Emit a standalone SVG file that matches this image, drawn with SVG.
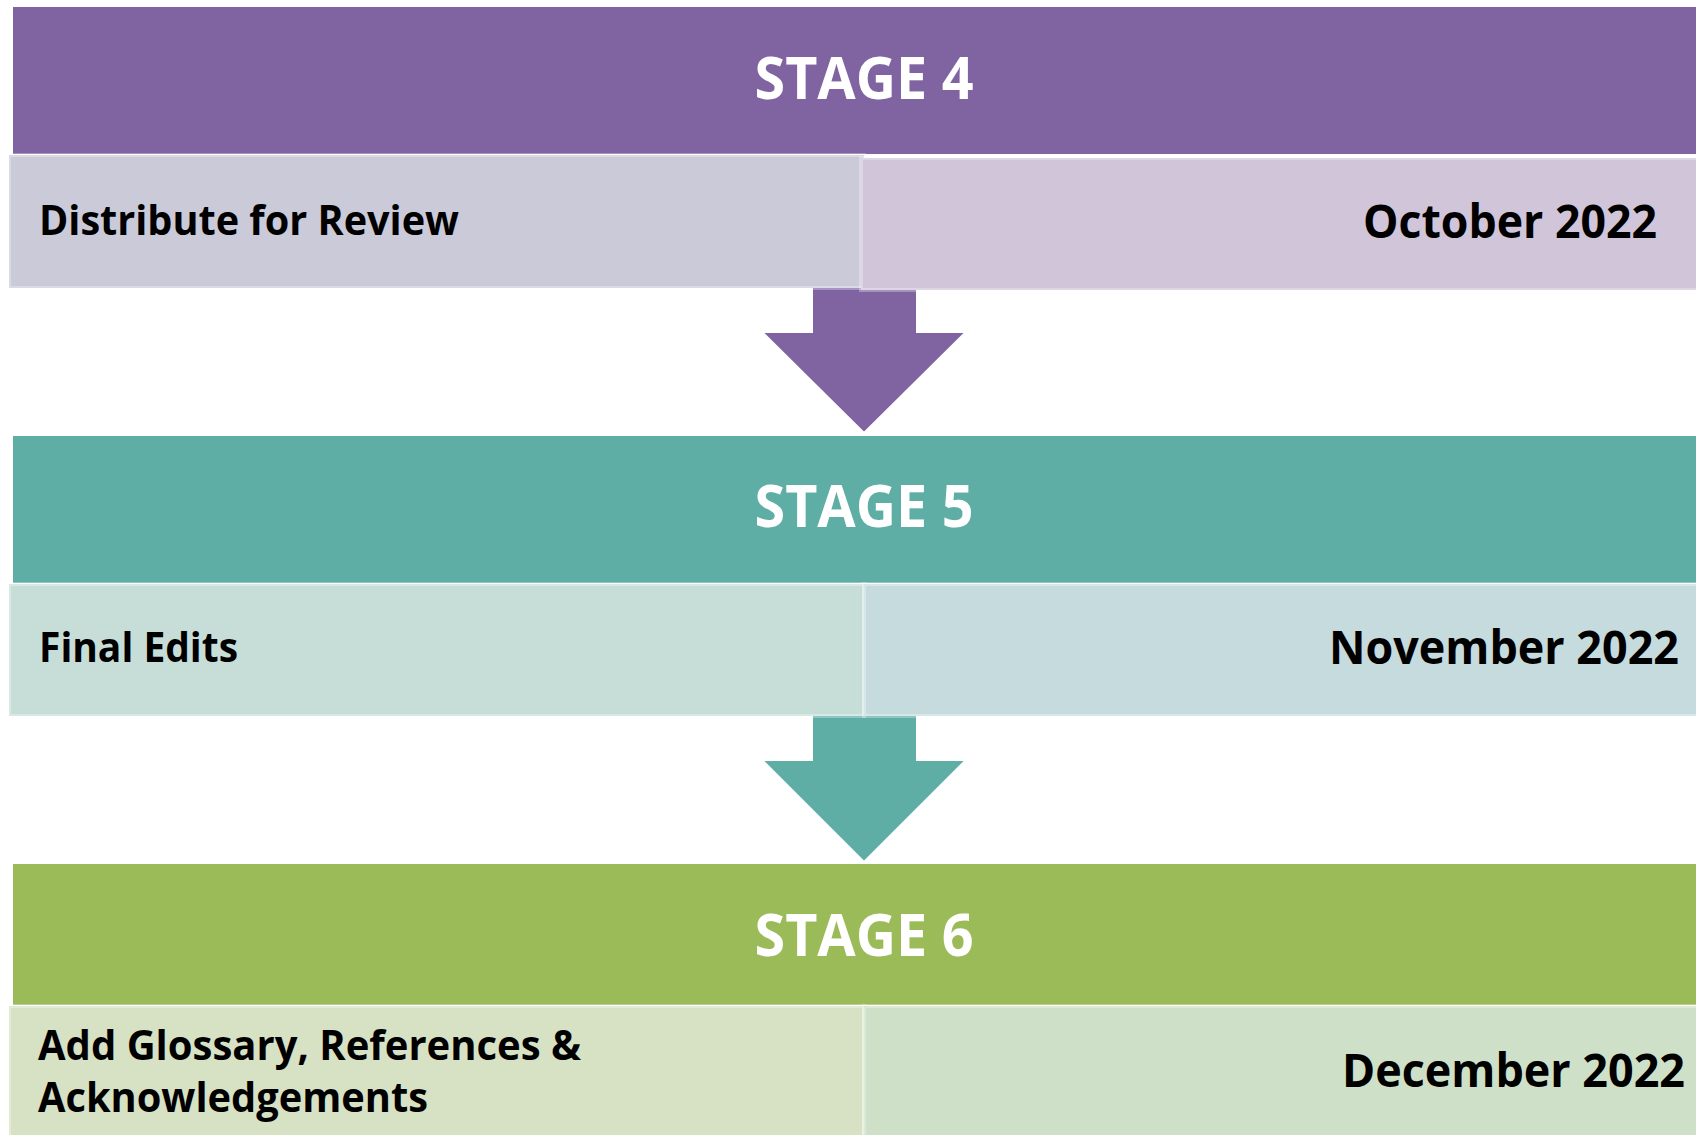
<svg xmlns="http://www.w3.org/2000/svg" width="1696" height="1135" viewBox="0 0 1696 1135">
<style>
.stage{font-family:"Open Sans","Liberation Sans",sans-serif;font-weight:700;font-size:59px;fill:#ffffff;text-anchor:middle}
.body{font-family:"Open Sans","Liberation Sans",sans-serif;font-weight:700;font-size:42px;fill:#000000}
.date{font-family:"Open Sans","Liberation Sans",sans-serif;font-weight:700;font-size:47px;fill:#000000;text-anchor:end}
.box{stroke:#ffffff;stroke-opacity:0.3;stroke-width:4}
.arrow{stroke:#ffffff;stroke-width:2}
</style>
<rect width="1696" height="1135" fill="#ffffff"/>
<g id="connectors">
<polygon class="arrow" fill="#8064A2" points="812,270 917,270 917,332 966,332 864,433 762,332 812,332"/>
<polygon class="arrow" fill="#5EAEA6" points="812,700 917,700 917,760 966,760 864,862 762,760 812,760"/>
</g>
<g id="stage4">
<rect x="13" y="7" width="1685" height="147" fill="#8064A2"/>
<text class="stage" x="864" y="99" textLength="219" lengthAdjust="spacingAndGlyphs">STAGE 4</text>
</g>
<g id="stage4-task">
<rect class="box" x="9" y="155" width="855" height="133" fill="#CACAD9"/>
<text class="body" x="39" y="235" textLength="420" lengthAdjust="spacingAndGlyphs">Distribute for Review</text>
</g>
<g id="stage4-date">
<rect class="box" x="861" y="158" width="840" height="132" fill="#D0C5D9"/>
<text class="date" x="1657" y="238" textLength="294" lengthAdjust="spacingAndGlyphs">October 2022</text>
</g>
<g id="stage5">
<rect x="13" y="436" width="1685" height="147" fill="#5EAEA6"/>
<text class="stage" x="864" y="527" textLength="219" lengthAdjust="spacingAndGlyphs">STAGE 5</text>
</g>
<g id="stage5-task">
<rect class="box" x="9" y="584" width="855" height="132" fill="#C7DED8"/>
<text class="body" x="39" y="662" textLength="199" lengthAdjust="spacingAndGlyphs">Final Edits</text>
</g>
<g id="stage5-date">
<rect class="box" x="864" y="584" width="837" height="132" fill="#C6DBDD"/>
<text class="date" x="1679" y="664" textLength="350" lengthAdjust="spacingAndGlyphs">November 2022</text>
</g>
<g id="stage6">
<rect x="13" y="864" width="1685" height="141" fill="#9BBB59"/>
<text class="stage" x="864" y="956" textLength="219" lengthAdjust="spacingAndGlyphs">STAGE 6</text>
</g>
<g id="stage6-task">
<rect class="box" x="9" y="1006" width="855" height="135" fill="#D7E1C4"/>
<text class="body" x="38" y="1060" textLength="543" lengthAdjust="spacingAndGlyphs">Add Glossary, References &amp;</text>
<text class="body" x="38" y="1112" textLength="390" lengthAdjust="spacingAndGlyphs">Acknowledgements</text>
</g>
<g id="stage6-date">
<rect class="box" x="864" y="1006" width="837" height="135" fill="#CEE0C7"/>
<text class="date" x="1685" y="1087" textLength="343" lengthAdjust="spacingAndGlyphs">December 2022</text>
</g>
</svg>
